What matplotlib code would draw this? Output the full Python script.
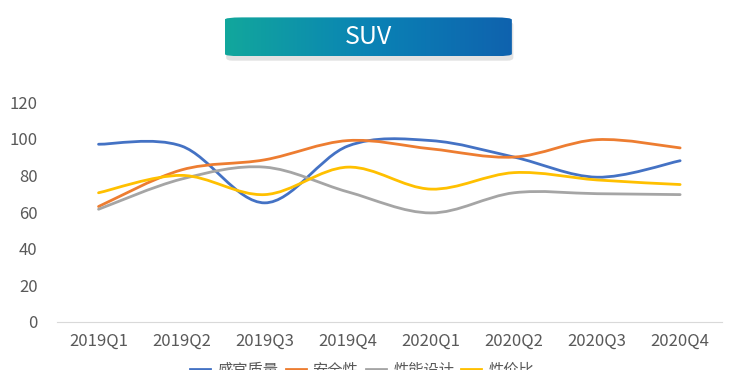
import numpy as np
import matplotlib
matplotlib.use("Agg")
import matplotlib.pyplot as plt
from matplotlib.path import Path
from matplotlib.patches import PathPatch, FancyBboxPatch
from matplotlib.lines import Line2D

plt.rcParams['font.family'] = ['Noto Sans CJK SC', 'DejaVu Sans']

quarters = ['2019Q1', '2019Q2', '2019Q3', '2019Q4', '2020Q1', '2020Q2', '2020Q3', '2020Q4']
names = ['感官质量', '安全性', '性能设计', '性价比']
ganguan = [97, 96, 65, 96, 99, 90, 79, 88]
anquan = [63, 83, 88.5, 99, 94.5, 90, 99.5, 95]
xingneng = [61.5, 78, 84.5, 71, 59.5, 70.5, 70, 69.5]
xingjiabi = [70.5, 80, 69.5, 84.5, 72.5, 81.5, 77.5, 75]
colors = ['#4472C4', '#ED7D31', '#A5A5A5', '#FFC000']


def smooth_path(x, y):
    # excel-like smoothing: cubic bezier segments, catmull-rom control points
    pts = np.column_stack([x, y]).astype(float)
    n = len(pts)
    verts = [pts[0]]
    codes = [Path.MOVETO]
    for i in range(n - 1):
        p0 = pts[i - 1] if i > 0 else pts[i]
        p1 = pts[i]
        p2 = pts[i + 1]
        p3 = pts[i + 2] if i + 2 < n else pts[i + 1]
        c1 = p1 + (p2 - p0) / 6.0
        c2 = p2 - (p3 - p1) / 6.0
        verts += [c1, c2, p2]
        codes += [Path.CURVE4] * 3
    return Path(verts, codes)


fig = plt.figure(figsize=(7.44, 3.70), dpi=100)
ax = fig.add_axes([0.0766, 0.130, 0.8934, 0.594])

x = np.arange(len(quarters))
for vals, c in zip([ganguan, anquan, xingneng, xingjiabi], colors):
    ax.add_patch(PathPatch(smooth_path(x, vals), facecolor='none', edgecolor=c,
                           lw=2, capstyle='round'))

ax.set_xlim(-0.5, len(quarters) - 0.5)
ax.set_ylim(0, 120)
ax.set_yticks(range(0, 121, 20))
ax.set_xticks(x)
ax.set_xticklabels(quarters)
for s in ['top', 'right', 'left']:
    ax.spines[s].set_visible(False)
ax.spines['bottom'].set_color('#d9d9d9')
ax.tick_params(length=0, labelsize=12, colors='#595959', pad=8)
ax.tick_params(axis='y', pad=14)

handles = [Line2D([], [], color=c, lw=2) for c in colors]
fig.legend(handles, names, loc='upper center', bbox_to_anchor=(0.487, 0.06),
           ncol=4, frameon=False, fontsize=11, labelcolor='#595959',
           handlelength=1.3, handletextpad=0.5, columnspacing=0.45)

# title banner with gradient
bx, by, bw, bh = 0.302, 0.848, 0.386, 0.105
shadow = FancyBboxPatch((bx + 0.002, by - 0.012), bw, bh, boxstyle='round,pad=0,rounding_size=0.008',
                        transform=fig.transFigure, facecolor='#d0d0d0', edgecolor='none',
                        alpha=0.6, zorder=-1)
fig.patches.append(shadow)
tax = fig.add_axes([bx, by, bw, bh], zorder=5)
tax.axis('off')
grad = np.linspace(0, 1, 256).reshape(1, -1)
cmap = matplotlib.colors.LinearSegmentedColormap.from_list('g', ['#12a79c', '#0a83b5', '#0f62ae'])
im = tax.imshow(grad, aspect='auto', cmap=cmap, extent=[0, 1, 0, 1])
clip = FancyBboxPatch((0, 0), 1, 1, boxstyle='round,pad=0,rounding_size=0.06',
                      transform=tax.transAxes, facecolor='none', edgecolor='none')
tax.add_patch(clip)
im.set_clip_path(clip)
tax.set_xlim(0, 1)
tax.set_ylim(0, 1)
tax.text(0.5, 0.5, 'SUV', color='white', fontsize=18, ha='center', va='center',
         transform=tax.transAxes)

fig.savefig('out.png', dpi=100)
